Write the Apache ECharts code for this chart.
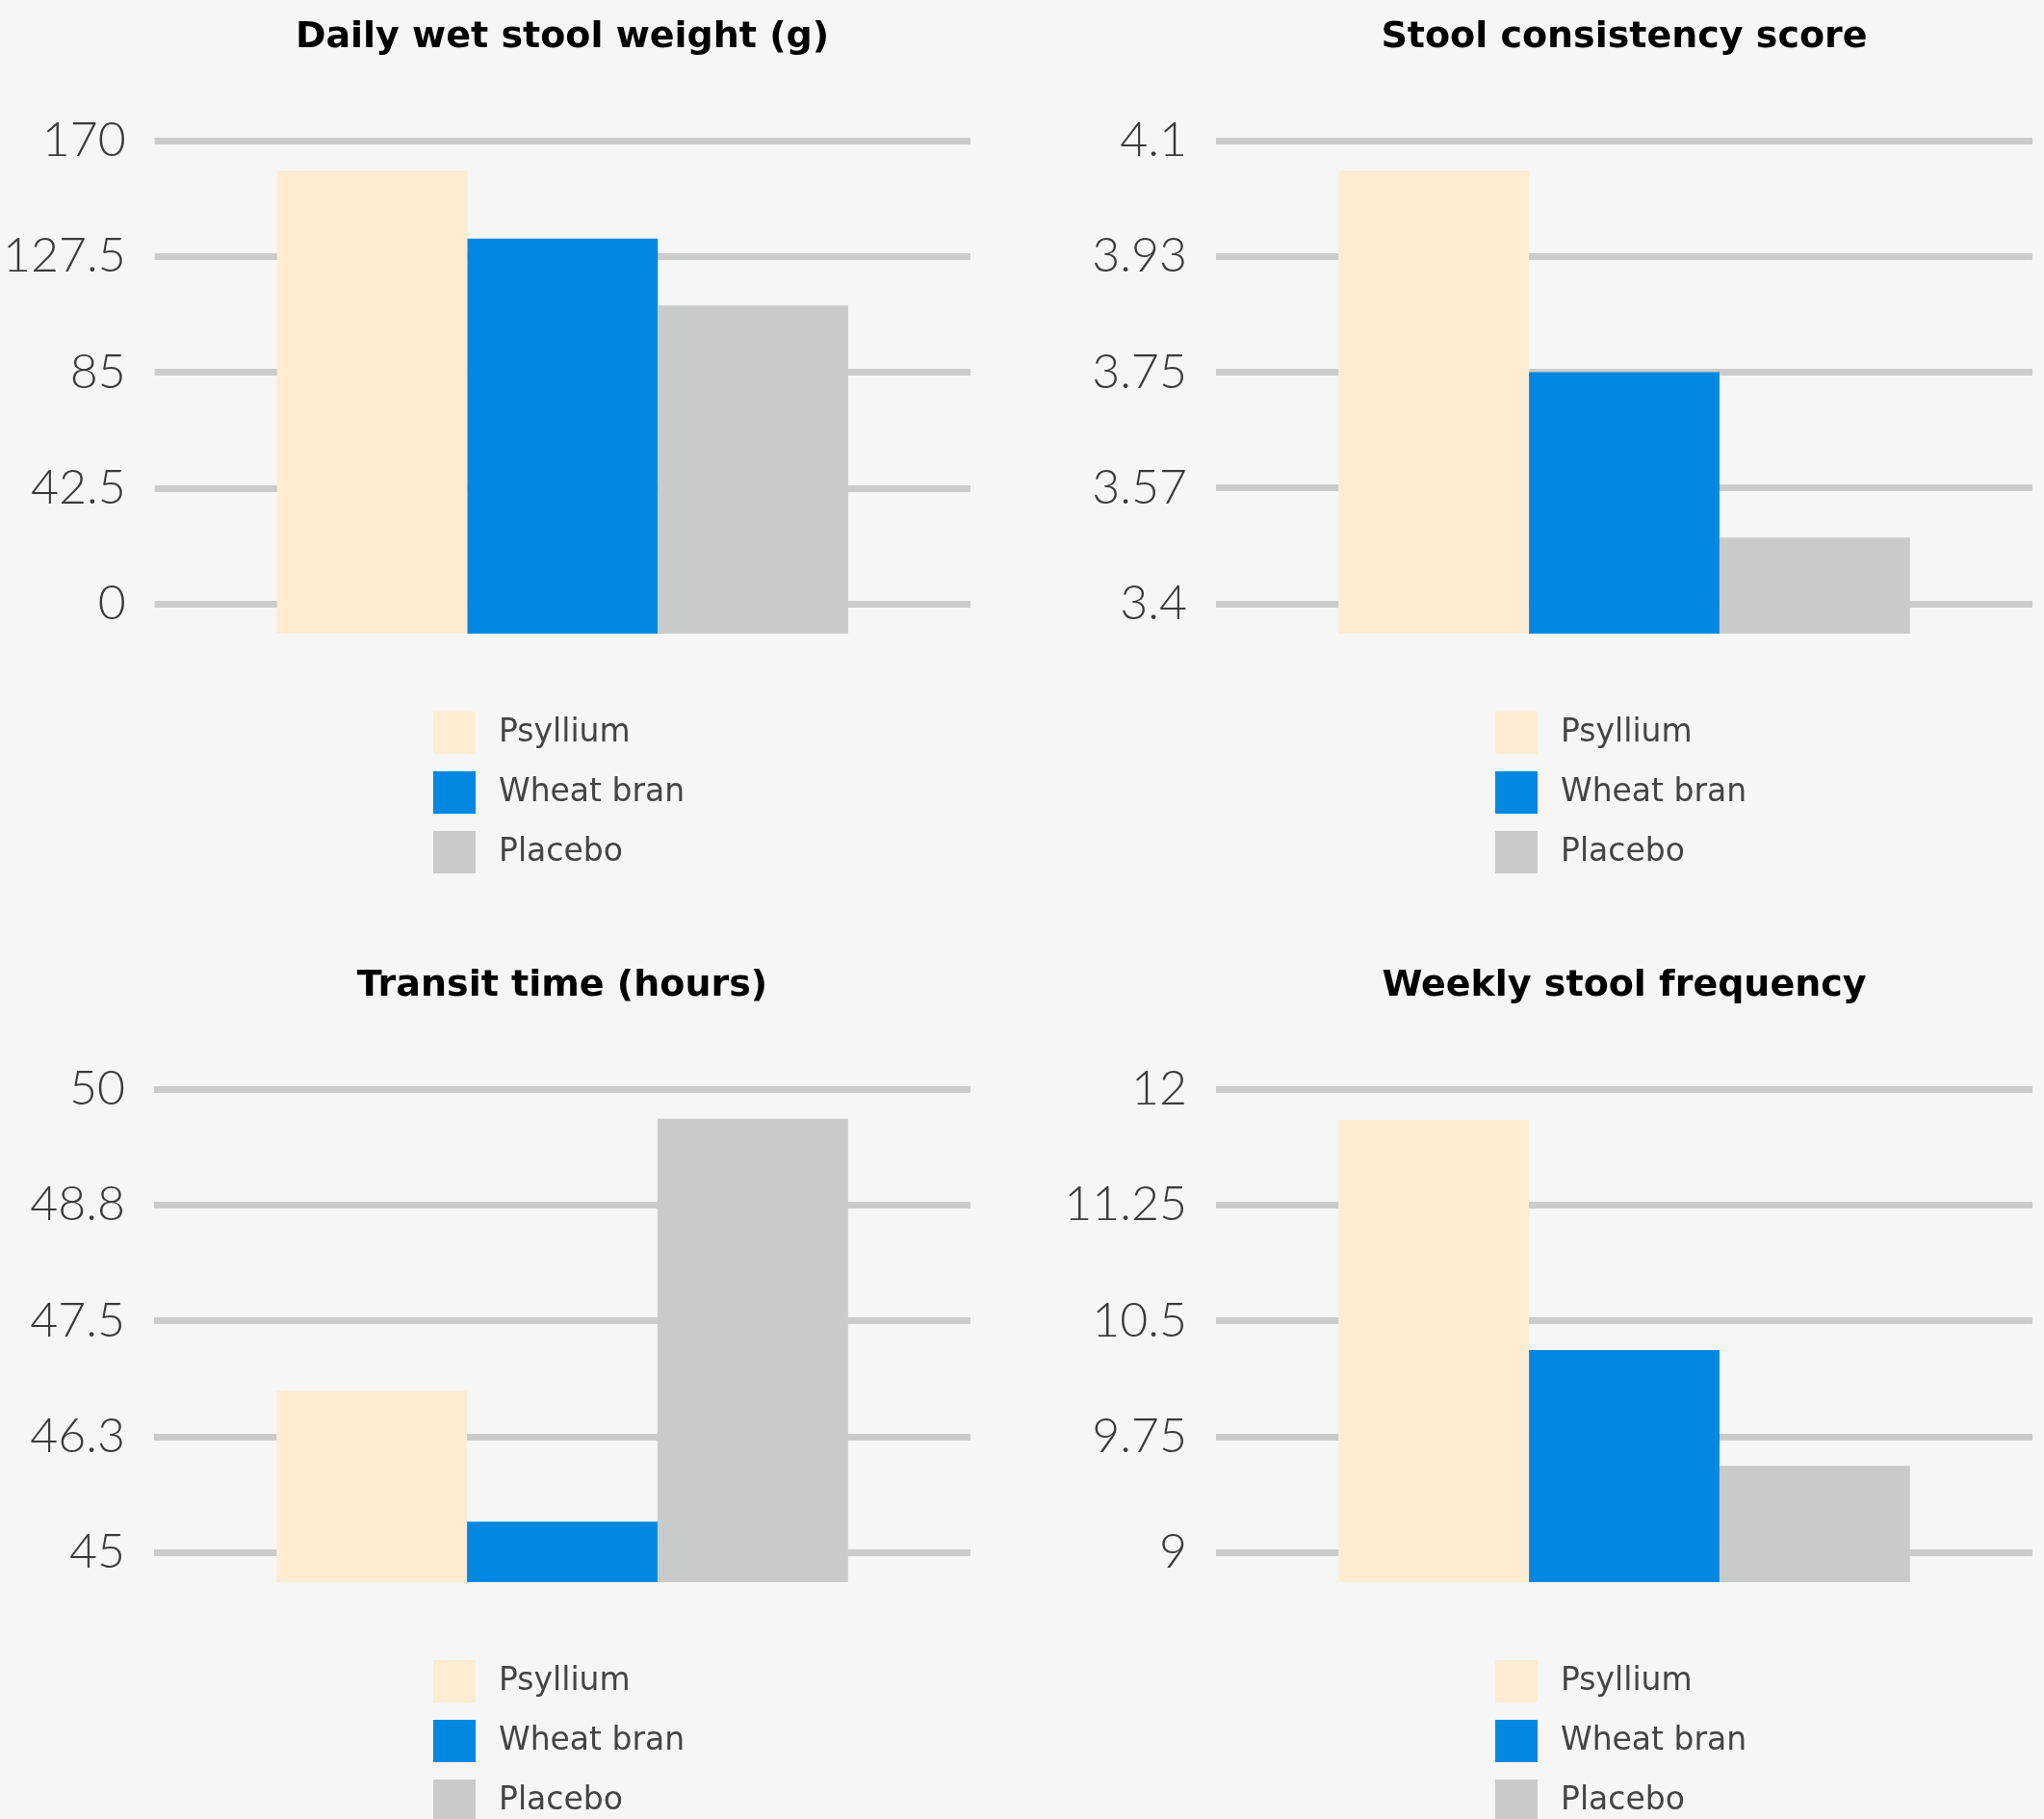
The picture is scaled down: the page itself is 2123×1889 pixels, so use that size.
<!DOCTYPE html>
<html>
<head>
<meta charset="utf-8">
<script src="https://cdn.jsdelivr.net/npm/echarts@6/dist/echarts.min.js"></script>
<style>
html,body{margin:0;padding:0;background:#f6f6f6;}
#chart{width:2123px;height:1889px;}
</style>
</head>
<body>
<div id="chart"></div>
<script>
// ---- data ----
const groups = ['Psyllium', 'Wheat bran', 'Placebo'];
const chartTitles = ['Daily wet stool weight (g)', 'Stool consistency score', 'Transit time (hours)', 'Weekly stool frequency'];

const weightValues = [159, 134, 109.5];
const consistencyValues = [4.055, 3.75, 3.5];
const transitValues = [46.74, 45.33, 49.68];
const frequencyValues = [11.8, 10.31, 9.56];

const weightTicks = [0, 42.5, 85, 127.5, 170];
const weightTickLabels = ['0', '42.5', '85', '127.5', '170'];
const consistencyTicks = [3.4, 3.575, 3.75, 3.925, 4.1];
const consistencyTickLabels = ['3.4', '3.57', '3.75', '3.93', '4.1'];
const transitTicks = [45, 46.25, 47.5, 48.75, 50];
const transitTickLabels = ['45', '46.3', '47.5', '48.8', '50'];
const frequencyTicks = [9, 9.75, 10.5, 11.25, 12];
const frequencyTickLabels = ['9', '9.75', '10.5', '11.25', '12'];

// ---- styling / layout ----
const colors = ['#ffecd2', '#0288e0', '#c9caca'];
const panels = [
  {values: weightValues, ticks: weightTicks, labels: weightTickLabels, left: 160, top: 146},
  {values: consistencyValues, ticks: consistencyTicks, labels: consistencyTickLabels, left: 1263, top: 146},
  {values: transitValues, ticks: transitTicks, labels: transitTickLabels, left: 160, top: 1131},
  {values: frequencyValues, ticks: frequencyTicks, labels: frequencyTickLabels, left: 1263, top: 1131}
];
const gridW = 848, tickSpan = 481, belowSpan = 31;

function makeRender(si) {
  return function (params, api) {
    const cs = params.coordSys;
    const top = api.coord([api.value(0), api.value(1)]);
    const band = api.size([1, 0])[0];
    const barW = band * 0.7 / 3;
    const x0 = top[0] - barW * 1.5 + si * barW;
    const bottom = cs.y + cs.height;
    return {
      type: 'rect',
      shape: {x: x0, y: top[1], width: barW, height: bottom - top[1]},
      style: api.style()
    };
  };
}

const grid = [], xAxis = [], yAxis = [], series = [], legend = [], graphic = [];
panels.forEach(function (p, i) {
  const lo = p.ticks[0], hi = p.ticks[p.ticks.length - 1];
  const ext = (hi - lo) * belowSpan / tickSpan;
  grid.push({left: p.left, top: p.top, width: gridW, height: tickSpan + belowSpan});
  xAxis.push({type: 'category', gridIndex: i, data: [''], show: false});
  yAxis.push({
    type: 'value', gridIndex: i, min: lo - ext, max: hi,
    axisLine: {show: false},
    axisTick: {show: false, customValues: p.ticks},
    splitLine: {show: true, lineStyle: {color: '#cacbcb', width: 7}},
    axisLabel: {
      customValues: p.ticks, margin: 30, color: '#3a3a3a',
      fontFamily: 'Lato, "Open Sans", sans-serif', fontWeight: 300, fontSize: 50,
      formatter: function (v) {
        let best = 0;
        p.ticks.forEach(function (t, k) { if (Math.abs(t - v) < Math.abs(p.ticks[best] - v)) best = k; });
        return p.labels[best];
      }
    }
  });
  groups.forEach(function (g, si) {
    series.push({
      type: 'custom', name: g, xAxisIndex: i, yAxisIndex: i,
      itemStyle: {color: colors[si]},
      encode: {x: 0, y: 1},
      data: [[0, p.values[si]]],
      renderItem: makeRender(si)
    });
  });
  legend.push({
    data: groups, orient: 'vertical', left: p.left + 285, top: p.top + 588, height: 300,
    itemWidth: 44, itemHeight: 44, itemGap: 18, icon: 'rect', selectedMode: false,
    textStyle: {fontSize: 33, color: '#444444', fontFamily: '"DejaVu Sans", sans-serif', padding: [4, 0, 0, 19]}
  });
  graphic.push({
    type: 'text', x: p.left + gridW / 2, y: p.top - 107,
    style: {
      text: chartTitles[i], fill: '#000', textAlign: 'center', textVerticalAlign: 'middle',
      font: 'bold 38px "DejaVu Sans", sans-serif'
    }
  });
});

const chart = echarts.init(document.getElementById('chart'));
chart.setOption({
  backgroundColor: '#f6f6f6',
  animation: false,
  grid: grid, xAxis: xAxis, yAxis: yAxis, series: series, legend: legend, graphic: graphic
});
</script>
</body>
</html>
